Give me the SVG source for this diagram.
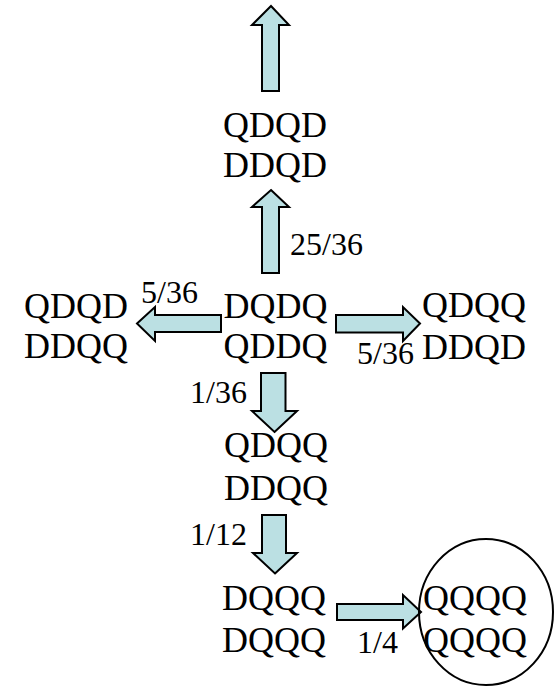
<svg xmlns="http://www.w3.org/2000/svg" width="558" height="686" viewBox="0 0 558 686">
  <style>
    .node { font-family: "Liberation Serif", "Times New Roman", serif; font-size: 36px; fill: #000; text-anchor: middle; }
    .lbl { font-family: "Liberation Serif", "Times New Roman", serif; font-size: 32px; fill: #000; }
    .arrow { fill: #BBE0E3; stroke: #000; stroke-width: 2; stroke-linejoin: miter; }
  </style>
  <rect width="558" height="686" fill="#fff"/>

  <g id="connectors">
    <!-- up arrow leaving the top state -->
    <polygon class="arrow" points="271,6 289,25 279,25 279,91 262,91 262,25 252,25"/>
    <!-- up arrow 25/36 -->
    <polygon class="arrow" points="271,190 289,207 279,207 279,273 262,273 262,207 252,207"/>
    <!-- left arrow 5/36 -->
    <polygon class="arrow" points="137,323.5 155,307 155,315 221,315 221,332 155,332 155,341"/>
    <!-- right arrow 5/36 -->
    <polygon class="arrow" points="420,323.5 403,307 403,315 336,315 336,332.5 403,332.5 403,341"/>
    <!-- down arrow 1/36 -->
    <polygon class="arrow" points="274.5,432 297,411 285.5,411 285.5,373 261,373 261,411 252,411"/>
    <!-- down arrow 1/12 -->
    <polygon class="arrow" points="275,573.5 297,553 286,553 286,515 262,515 262,553 253,553"/>
    <!-- right arrow 1/4 -->
    <polygon class="arrow" points="421,612 403,595 403,604 337,604 337,620 403,620 403,628.5"/>
    <g class="lbl">
      <text x="290" y="255">25/36</text>
      <text x="141" y="303">5/36</text>
      <text x="357" y="364">5/36</text>
      <text x="190" y="403">1/36</text>
      <text x="190" y="545">1/12</text>
      <text x="357" y="653">1/4</text>
    </g>
  </g>

  <g id="node-top">
    <text class="node" x="275" y="137">QDQD</text>
    <text class="node" x="275" y="177">DDQD</text>
  </g>
  <g id="node-center">
    <text class="node" x="275.5" y="318">DQDQ</text>
    <text class="node" x="275.5" y="358">QDDQ</text>
  </g>
  <g id="node-left">
    <text class="node" x="76" y="318">QDQD</text>
    <text class="node" x="76" y="358">DDQQ</text>
  </g>
  <g id="node-right">
    <text class="node" x="474" y="317">QDQQ</text>
    <text class="node" x="474" y="359">DDQD</text>
  </g>
  <g id="node-mid">
    <text class="node" x="276" y="457">QDQQ</text>
    <text class="node" x="276" y="500">DDQQ</text>
  </g>
  <g id="node-lower">
    <text class="node" x="274" y="610">DQQQ</text>
    <text class="node" x="274" y="652">DQQQ</text>
  </g>
  <g id="node-final">
    <ellipse cx="486" cy="612" rx="67" ry="73" fill="none" stroke="#000" stroke-width="2"/>
    <text class="node" x="475" y="610">QQQQ</text>
    <text class="node" x="475" y="652">QQQQ</text>
  </g>
</svg>
